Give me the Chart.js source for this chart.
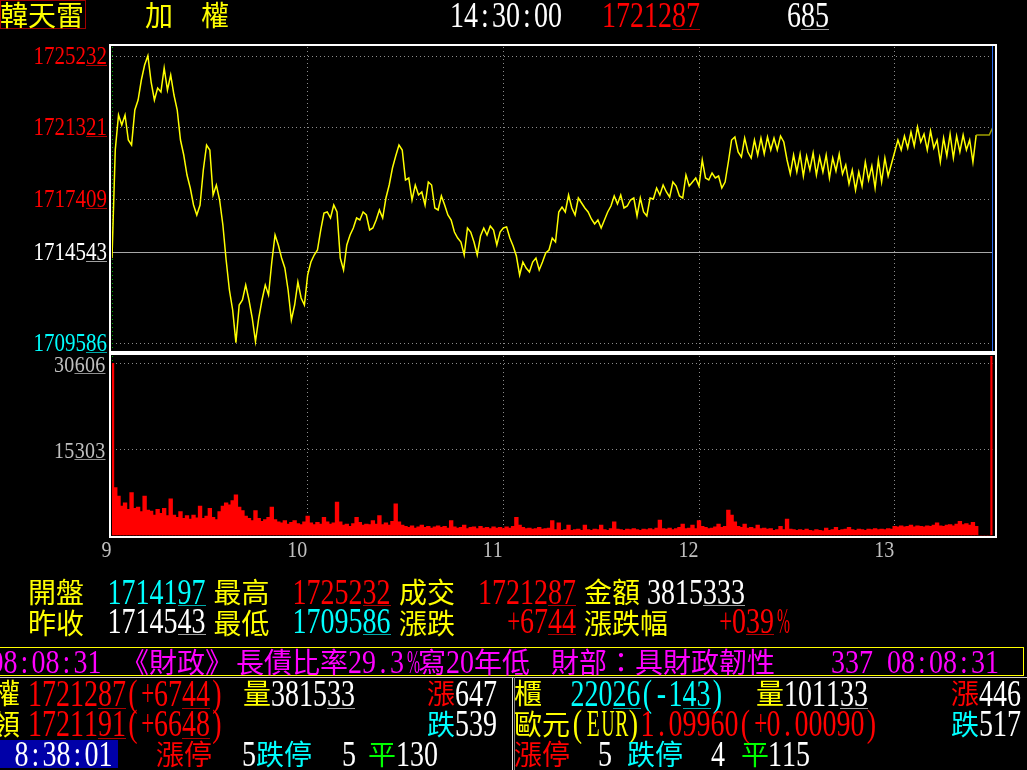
<!DOCTYPE html>
<html lang="zh-Hant">
<head>
<meta charset="utf-8">
<title>加權</title>
<script src="https://cdn.jsdelivr.net/npm/chart.js@4.4.1/dist/chart.umd.min.js"></script>
<style>
html, body { margin: 0; padding: 0; background: #000; }
body { width: 1027px; height: 770px; position: relative; overflow: hidden; }
canvas { position: absolute; left: 0; }
#priceCanvas { top: 0; }
#volCanvas { top: 350px; }
#txt { position: absolute; left: 0; top: 0; width: 1027px; height: 770px; }
.frame { position: absolute; left: 109px; top: 44px; width: 888px; height: 494px; border: 2px solid #fff; box-sizing: border-box; }
.sep { position: absolute; left: 109px; top: 351px; width: 888px; height: 4px; background: #fff; }
.lt, .cj { position: absolute; text-align: center; white-space: pre; }
.lt { font-family: "Liberation Serif", serif; font-size: 28px; line-height: 28px; height: 28px; transform-origin: 50% 23.5px; }
.cj { font-family: "Noto Sans CJK TC", sans-serif; font-size: 28px; line-height: 28px; height: 28px; }
.ul, .box, .ln { position: absolute; }
</style>
</head>
<body>
<canvas id="priceCanvas" width="1027" height="360" style="width:1027px;height:360px"></canvas>
<canvas id="volCanvas" width="1027" height="220" style="width:1027px;height:220px"></canvas>
<div class="frame"></div>
<div class="sep"></div>
<div id="txt"></div>
<script>
// -----------------------------------------
// Daten (Minuten ab 09:00)
// -----------------------------------------
const HOUR_MINUTES = [0, 60, 120, 180, 240];
const HOUR_LABELS = ["9", "10", "11", "12", "13"];
const PRICE_TICKS = [1725232, 1721321, 1717409, 1714543, 1709586];
const PREV_CLOSE = 1714543;
const VOLUME_TICKS = [30606, 15303];

const PRICE = [
    1714197, 1720091, 1721999, 1721454, 1721999, 1720636, 1720364, 1722272, 1722817, 1723907,
    1724725, 1725232, 1723798, 1722817, 1723471, 1723253, 1724562, 1723362, 1724180, 1723090,
    1722272, 1720636, 1719818, 1718728, 1718019, 1717092, 1716547, 1717092, 1719001, 1720364,
    1720091, 1717638, 1718183, 1717365, 1716002, 1714094, 1712458, 1711368, 1709586, 1711640,
    1711913, 1712731, 1711913, 1710932, 1709650, 1710932, 1711913, 1712731, 1712186, 1713985,
    1715457, 1714912, 1714203, 1713658, 1712458, 1710823, 1711640, 1712894, 1712022, 1711640,
    1713276, 1713985, 1714366, 1714639, 1715729, 1716656, 1716711, 1716384, 1717092, 1716711,
    1714203, 1713549, 1714912, 1715457, 1715838, 1716384, 1716275, 1716711, 1716547, 1715729,
    1715838, 1716275, 1716820, 1716384, 1717474, 1718183, 1719110, 1719764, 1720364, 1720091,
    1718455, 1718564, 1717365, 1718183, 1717638, 1717801, 1717092, 1718346, 1718183, 1716929,
    1716820, 1717583, 1717092, 1716547, 1716275, 1715620, 1715293, 1715075, 1714366, 1715838,
    1715620, 1715075, 1714366, 1715402, 1715838, 1715457, 1715947, 1715729, 1714912, 1715620,
    1715838, 1715900, 1715293, 1714857, 1714312, 1713276, 1713985, 1713658, 1713440, 1713985,
    1714203, 1713549, 1713985, 1714475, 1714639, 1715293, 1715075, 1716711, 1716983, 1716711,
    1717638, 1716929, 1716547, 1717474, 1717201, 1716929, 1716711, 1716329, 1716057, 1716275,
    1715838, 1716275, 1716711, 1717038, 1717583, 1717147, 1717638, 1716929, 1717038, 1717365,
    1717474, 1716493, 1717474, 1716711, 1716493, 1717474, 1717420, 1718019, 1717638, 1718183,
    1717801, 1717529, 1718346, 1718128, 1717583, 1717474, 1718728, 1718128, 1718346, 1718564,
    1718128, 1719546, 1718564, 1718455, 1718837, 1718564, 1718673, 1718019, 1718346, 1719437,
    1720636, 1720800, 1719982, 1719709, 1720745, 1719982, 1719655, 1720636, 1719818, 1720745,
    1719873, 1720800, 1720091, 1720745, 1720091, 1720854, 1720527, 1719546, 1718782, 1719818,
    1718892, 1719873, 1718673, 1719764, 1719001, 1719927, 1718728, 1719709, 1718892, 1719818,
    1718564, 1719655, 1718946, 1719873, 1718782, 1719273, 1718237, 1719001, 1717910, 1718892,
    1718128, 1719437, 1718455, 1719219, 1718019, 1719546, 1718346, 1719655, 1718673, 1719328,
    1719982, 1720636, 1720091, 1720854, 1720200, 1721072, 1720309, 1721345, 1720527, 1720964,
    1720091, 1721127, 1720200, 1720636, 1719437, 1720745, 1719764, 1720964, 1719655, 1720854,
    1719982, 1720909, 1720091, 1720636, 1719437, 1720909, 1720909, 1720909, 1720909, 1720909,
    1721287
];

const VOLUME = [
    30606, 8500, 7000, 5200, 5800, 4600, 7600, 4800, 5000, 4200,
    7000, 4500, 4300, 3600, 4600, 3900, 4800, 3500, 6500, 3600,
    3200, 4200, 3000, 3500, 2900, 3600, 3100, 5200, 3000, 3400,
    4800, 3200, 2800, 4200, 5200, 5800, 5400, 6200, 7200, 5000,
    4400, 3400, 3000, 2600, 4400, 3000, 2500, 2800, 3200, 5000,
    2800, 2400, 2200, 2600, 2000, 2300, 2600, 2100, 1900, 2400,
    3400, 2200, 1900, 2300, 2000, 3200, 2400, 2000, 2200, 5900,
    2400, 1800, 2000, 1600, 2100, 3200, 2300, 1800, 2000, 1900,
    2600, 2000, 3500, 1900, 2200, 1800, 2500, 5600, 2400, 1800,
    1600, 1400, 1700, 1300, 1500, 1800, 1400, 1600, 1300, 1500,
    1700, 1400, 1600, 1300, 2600, 1500, 1300, 1400, 1800, 1200,
    1400, 1500, 1200, 1600, 1300, 1400, 1200, 1500, 1300, 1400,
    1200, 1500, 1300, 1600, 3200, 1800, 1400, 1200, 1300, 1100,
    1200, 1400, 1100, 1200, 1300, 2600, 1000, 2200, 900, 1000,
    1800, 900, 1000, 1100, 900, 1800, 1000, 900, 1100, 1000,
    1800, 1000, 900, 1200, 2400, 1100, 1000, 900, 1100, 1000,
    1200, 1000, 900, 1100, 1000, 1200, 1000, 1300, 2700, 1200,
    1100, 1300, 1000, 1200, 1400, 2000, 1200, 1300, 1800, 1200,
    2600, 1600, 1400, 1200, 1300, 1500, 2000, 1400, 1600, 4500,
    3600, 2400, 1600, 1400, 2000, 1300, 1400, 1200, 1800, 1200,
    1300, 1100, 1200, 900, 1000, 1600, 1000, 2900, 1100, 1000,
    900, 1000, 900, 1100, 900, 800, 1000, 900, 800, 1300,
    900, 1000, 1400, 900, 1000, 1100, 1400, 1000, 900, 1100,
    1000, 900, 1100, 1000, 1200, 1000, 1100, 1000, 1200, 1100,
    1600, 1500, 1700, 1500, 1600, 1800, 1500, 1700, 1600, 1500,
    1700, 1600, 1800, 2200, 1700, 1600, 1800, 1900, 1700, 2000,
    2500, 1900, 2100, 1800, 2300, 1600, 0, 0, 0, 0,
    32500
];

const YEL = "#ffff00", RED = "#ff0000", CYA = "#00ffff", WHT = "#ffffff",
      MAG = "#ff00ff", GRN = "#00ff00", GRY = "#c0c0c0";

function dim(c) {
    return { "#ff0000": "#b00000", "#ffffff": "#a0a0a0", "#00ffff": "#00a8a8", "#c0c0c0": "#909090" }[c] || c;
}


// -----------------------------------------
// Achsenbeschriftung (Zeichen im festen Raster)
// -----------------------------------------
function cellText(ctx, right, base, str, color, ulCount, cw, fs, dh) {
    const left = right - str.length * cw;
    const sy = dh / (0.66 * fs);
    ctx.save();
    ctx.font = fs + 'px "Liberation Serif"';
    ctx.fillStyle = color;
    ctx.textAlign = "center";
    ctx.textBaseline = "alphabetic";
    for (let i = 0; i < str.length; i++) {
        ctx.save();
        ctx.translate(left + (i + 0.5) * cw, base);
        ctx.scale(1, sy);
        ctx.fillText(str[i], 0, 0);
        ctx.restore();
    }
    if (ulCount) {
        ctx.fillStyle = dim(color);
        ctx.fillRect(left + (str.length - ulCount) * cw, Math.round(base) + 1, ulCount * cw, 1);
    }
    ctx.restore();
}

function drawGrid(chart, yTicks, solidValue) {
    const { ctx, chartArea: a, scales: { x, y } } = chart;
    ctx.save();
    ctx.lineWidth = 1;
    ctx.setLineDash([1, 3]);
    ctx.strokeStyle = "#8c8c8c";
    yTicks.forEach(v => {
        if (v === solidValue) return;
        const py = Math.round(y.getPixelForValue(v)) + 0.5;
        ctx.beginPath(); ctx.moveTo(a.left, py); ctx.lineTo(a.right, py); ctx.stroke();
    });
    HOUR_MINUTES.forEach((m, i) => {
        const px = Math.floor(x.getPixelForValue(m)) + 0.5;
        ctx.strokeStyle = i === 0 ? "#00b000" : "#8c8c8c";
        ctx.beginPath(); ctx.moveTo(px, a.top); ctx.lineTo(px, a.bottom); ctx.stroke();
    });
    ctx.setLineDash([]);
    if (solidValue != null) {
        const py = Math.round(y.getPixelForValue(solidValue)) + 0.5;
        ctx.strokeStyle = "#a8a8a8";
        ctx.beginPath(); ctx.moveTo(a.left, py); ctx.lineTo(a.right, py); ctx.stroke();
    }
    ctx.restore();
}

const pricePlugin = {
    id: "pricePanel",
    beforeDatasetsDraw(chart) { drawGrid(chart, PRICE_TICKS, PREV_CLOSE); },
    afterDatasetsDraw(chart) {
        const { ctx, chartArea: a, scales: { x, y } } = chart;
        const cx = Math.floor(x.getPixelForValue(270)) + 0.5;
        ctx.save();
        ctx.strokeStyle = "#2a6cf0";
        ctx.lineWidth = 1;
        ctx.beginPath(); ctx.moveTo(cx, a.top - 2); ctx.lineTo(cx, a.bottom + 1); ctx.stroke();
        ctx.restore();
        PRICE_TICKS.forEach(v => {
            const col = v > PREV_CLOSE ? RED : (v < PREV_CLOSE ? CYA : WHT);
            cellText(ctx, 107, y.getPixelForValue(v) + 8, String(v), col, 2, 10.5, 21, 16);
        });
    }
};

const volumePlugin = {
    id: "volumePanel",
    beforeDatasetsDraw(chart) { drawGrid(chart, VOLUME_TICKS, null); },
    afterDatasetsDraw(chart) {
        const { ctx, chartArea: a, scales: { x, y } } = chart;
        VOLUME_TICKS.forEach(v => {
            cellText(ctx, 105.5, y.getPixelForValue(v) + 8.5, String(v), GRY, 3, 10.35, 20, 15);
        });
        HOUR_MINUTES.forEach((m, i) => {
            cellText(ctx, x.getPixelForValue(m) - 0.5, a.bottom + 21.4, HOUR_LABELS[i], GRY, 0, 10, 20, 15);
        });
    }
};


// -----------------------------------------
// Diagramme
// -----------------------------------------
function initCharts() {
    new Chart(document.getElementById("priceCanvas").getContext("2d"), {
        type: "line",
        data: {
            datasets: [{
                data: PRICE.map((v, i) => ({ x: i, y: v })),
                borderColor: YEL,
                borderWidth: 1.5,
                pointRadius: 0,
                tension: 0,
                segment: { borderColor: c => c.p0DataIndex >= 265 ? "#a0a000" : undefined }
            }]
        },
        options: {
            responsive: false, animation: false, events: [], devicePixelRatio: 1,
            layout: { padding: { left: 112, right: 34.5, top: 47, bottom: 10 } },
            plugins: { legend: { display: false }, tooltip: { enabled: false } },
            scales: {
                x: { type: "linear", min: 0, max: 270, display: false },
                y: { min: 1709187, max: 1725707, display: false }
            }
        },
        plugins: [pricePlugin]
    });

    new Chart(document.getElementById("volCanvas").getContext("2d"), {
        type: "bar",
        data: {
            datasets: [{
                data: VOLUME.map((v, i) => ({ x: i, y: v })),
                backgroundColor: RED,
                borderWidth: 0,
                barThickness: 3.7,
                clip: 0
            }]
        },
        options: {
            responsive: false, animation: false, events: [], devicePixelRatio: 1,
            layout: { padding: { left: 112, right: 34.5, top: 6, bottom: 34.7 } },
            plugins: { legend: { display: false }, tooltip: { enabled: false } },
            scales: {
                x: { type: "linear", min: 0, max: 270, display: false, offset: false },
                y: { min: 0, max: 31906, display: false }
            }
        },
        plugins: [volumePlugin]
    });
}


// -----------------------------------------
// Textzeilen des Terminals
// -----------------------------------------
const HALF = 14;
const layer = document.getElementById("txt");
const mctx = document.createElement("canvas").getContext("2d");
mctx.font = '28px "Liberation Serif"';

function box(x, y, w, h, css) {
    const d = document.createElement("div");
    d.className = "box";
    d.style.cssText += `left:${x}px;top:${y}px;width:${w}px;height:${h}px;` + css;
    layer.appendChild(d);
}

function put(x, row, str, color, ul) {
    let cx = x, ulX = null;
    Array.from(str).forEach((ch, i) => {
        const wide = ch.charCodeAt(0) > 0x2e7f;
        const w = wide ? HALF * 2 : HALF;
        if (ch !== " " && ch !== "\u3000") {
            const d = document.createElement("div");
            d.textContent = ch;
            d.className = wide ? "cj" : "lt";
            d.style.left = cx + "px";
            d.style.width = w + "px";
            d.style.color = color;
            if (wide) {
                d.style.top = (row.cjk - 3) + "px";
            } else {
                const adv = mctx.measureText(ch).width;
                const sx = adv > 14 ? 13 / adv : 1;
                d.style.top = (row.base - 23.5) + "px";
                d.style.transform = `scale(${sx.toFixed(3)}, ${(row.dh / (0.66 * 28)).toFixed(3)})`;
            }
            layer.appendChild(d);
        }
        if (ul && i === ul[0]) ulX = cx;
        cx += w;
    });
    if (ul) box(ulX, Math.round(row.base) + 1, (ul[1] - ul[0]) * HALF, 1, "background:" + dim(color) + ";");
}

function drawTexts() {
    // Rahmen und Flächen
    box(0, 0, 86, 29, "border:1px solid #a00000;box-sizing:border-box;");
    box(-2, 647, 1026, 29, "border:1px solid #ffff00;box-sizing:border-box;");
    box(0, 677, 1027, 1, "background:#d0d0d0;");
    box(512, 677, 1, 93, "background:#e0e0e0;");
    box(514, 677, 1, 93, "background:#808080;");
    box(0, 740, 118, 28, "background:#0000a8;");

    const H = { cjk: 2.7, base: 27.8, dh: 23.5 };
    put(0, H, "韓天雷", YEL);
    put(145, H, "加\u3000權", YEL);
    put(450, H, "14:30:00", WHT);
    put(602, H, "1721287", RED, [5, 7]);
    put(787, H, "685", WHT, [1, 3]);

    const I1 = { cjk: 580, base: 604.3, dh: 24 };
    put(28, I1, "開盤", YEL);
    put(107.5, I1, "1714197", CYA, [5, 7]);
    put(213.5, I1, "最高", YEL);
    put(292.5, I1, "1725232", RED, [5, 7]);
    put(399, I1, "成交", YEL);
    put(478, I1, "1721287", RED, [5, 7]);
    put(584, I1, "金額", YEL);
    put(647, I1, "3815333", WHT, [4, 7]);

    const I2 = { cjk: 610.5, base: 633.3, dh: 23 };
    put(28, I2, "昨收", YEL);
    put(107.5, I2, "1714543", WHT, [5, 7]);
    put(213.5, I2, "最低", YEL);
    put(292.5, I2, "1709586", CYA, [5, 7]);
    put(399, I2, "漲跌", YEL);
    put(506, I2, "+6744", RED, [3, 5]);
    put(584, I2, "漲跌幅", YEL);
    put(718, I2, "+039%", RED, [2, 4]);

    const T = { cjk: 650, base: 673.3, dh: 21.6 };
    put(-10.5, T, "08:08:31", MAG);
    put(121, T, "《財政》", MAG);
    put(236, T, "長債比率29.3%寫20年低", MAG);
    put(551, T, "財部：具財政韌性", MAG);
    put(831, T, "337", MAG);
    put(887, T, "08:08:31", MAG);

    const A = { cjk: 680.5, base: 706.7, dh: 25 };
    put(-8, A, "權", YEL);
    put(28, A, "1721287", RED, [5, 7]);
    put(126, A, "(+6744)", RED, [4, 6]);
    put(243, A, "量", YEL);
    put(271, A, "381533", WHT, [4, 6]);
    put(427, A, "漲", RED);
    put(455, A, "647", WHT);
    put(514, A, "櫃", YEL);
    put(570.5, A, "22026", CYA, [3, 5]);
    put(640.5, A, "(-143)", CYA, [3, 5]);
    put(756, A, "量", YEL);
    put(784, A, "101133", WHT, [4, 6]);
    put(951, A, "漲", RED);
    put(979, A, "446", WHT);

    const B = { cjk: 711.5, base: 736.7, dh: 25 };
    put(-8, B, "領", YEL);
    put(28, B, "1721191", RED, [5, 7]);
    put(126, B, "(+6648)", RED, [4, 6]);
    put(427, B, "跌", CYA);
    put(455, B, "539", WHT);
    put(514, B, "歐元", YEL);
    put(570.5, B, "(EUR)", YEL);
    put(640.5, B, "1.09960(+0.00090)", RED);
    put(951, B, "跌", CYA);
    put(979, B, "517", WHT);

    const C = { cjk: 742, base: 766.7, dh: 24 };
    put(14.5, C, "8:38:01", WHT);
    put(156, C, "漲停", RED);
    put(242, C, "5", WHT);
    put(256, C, "跌停", CYA);
    put(342, C, "5", WHT);
    put(368, C, "平", GRN);
    put(396, C, "130", WHT);
    put(514, C, "漲停", RED);
    put(598, C, "5", WHT);
    put(627, C, "跌停", CYA);
    put(711, C, "4", WHT);
    put(741, C, "平", GRN);
    put(768, C, "115", WHT);
}

initCharts();
drawTexts();
</script>
</body>
</html>
